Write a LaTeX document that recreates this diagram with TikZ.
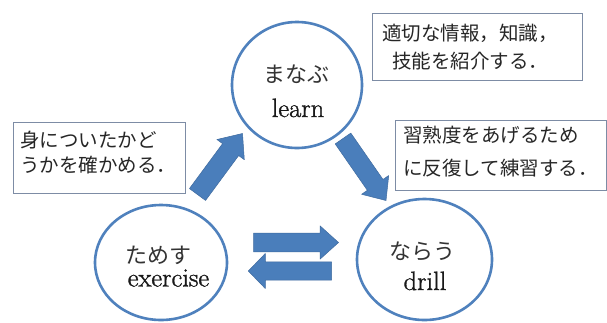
\documentclass[tikz,border=0pt]{standalone}
\usepackage{fontspec}
\newfontfamily\jp{Noto Sans CJK JP}
\newfontfamily\enfont[FakeBold=1.2]{Latin Modern Roman}
\usetikzlibrary{calc,shapes.geometric}
\definecolor{ringblue}{RGB}{79,129,189}
\definecolor{arrowblue}{RGB}{74,126,187}
\definecolor{boxline}{RGB}{125,140,165}
\newcommand\blockarrow[5]{%
  \coordinate (#1-hb) at ($(#2)!#5!(#1)$);
  \filldraw[blockarrowstyle] ($(#1)!#3!90:(#2)$) -- ($(#1-hb)!#3!-90:(#1)$) -- ($(#1-hb)!#4!-90:(#1)$) -- (#2) -- ($(#1-hb)!#4!90:(#1)$) -- ($(#1-hb)!#3!90:(#1)$) -- ($(#1)!#3!-90:(#2)$) -- cycle;}
\begin{document}
\begin{tikzpicture}[x=1pt,y=-1pt,
  ring/.style={ellipse, draw=ringblue, line width=2.6pt, fill=white, inner sep=0pt},
  infobox/.style={rectangle, draw=boxline, line width=0.9pt, fill=white, inner sep=0pt},
  boxtext/.style={font=\jp\fontsize{19.5}{#1}\selectfont, inner sep=0pt, text=black!85},
  ringjp/.style={font=\jp\fontsize{22}{26}\selectfont, inner sep=0pt, text=black!80},
  ringen/.style={font=\enfont\fontsize{26.5}{30}\selectfont, inner sep=0pt, anchor=base, text=black!90},
  blockarrowstyle/.style={fill=arrowblue, draw=arrowblue!85!black, line width=0.5pt, line join=round}]
\useasboundingbox (0,0) rectangle (607,322);
\fill[white] (0,0) rectangle (607,322);

% circles
\node[ring, minimum width=130pt, minimum height=126pt] (learn) at (297,85) {};
\node[ring, minimum width=132pt, minimum height=115pt] (exercise) at (161,262.5) {};
\node[ring, minimum width=135pt, minimum height=121pt] (drill) at (424.5,259.5) {};

\node[ringjp] (learnjp) at (296,74) {まなぶ};
\node[ringen] (learnen) at (298,117) {learn};
\node[ringjp] (exercisejp) at (158,255) {ためす};
\node[ringen] (exerciseen) at (168.5,286.5) {exercise};
\node[ringjp] (drilljp) at (422,251) {ならう};
\node[ringen] (drillen) at (425,290) {drill};

% boxes
\node[infobox, minimum width=210pt, minimum height=67pt] (infob) at (477,46.5) {};
\node[boxtext=28, align=center] (infot) at (470,47) {適切な情報，知識，\\技能を紹介する．};
\node[infobox, minimum width=211pt, minimum height=70pt] (drillb) at (500.5,155) {};
\node[boxtext=33, align=left, anchor=west] (drillt) at (403,151.5) {習熟度をあげるため\\に反復して練習する．};
\node[infobox, minimum width=172pt, minimum height=71pt] (checkb) at (99,157.5) {};
\node[boxtext=25, align=left, anchor=west] (checkt) at (20,152.5) {身についたかど\\うかを確かめる．};

% block arrows
\coordinate (upt) at (197.5,194.5);
\coordinate (uph) at (242.5,133.5);
\coordinate (dnt) at (343,138.5);
\coordinate (dnh) at (386,200.5);
\coordinate (rtt) at (253.5,242.5);
\coordinate (rth) at (338.5,242.5);
\coordinate (lft) at (331.5,271);
\coordinate (lfh) at (248.3,271);
\blockarrow{upt}{uph}{10pt}{17pt}{20pt}
\blockarrow{dnt}{dnh}{9.5pt}{16.5pt}{19pt}
\blockarrow{rtt}{rth}{9.3pt}{16.7pt}{18.5pt}
\blockarrow{lft}{lfh}{9.2pt}{17.5pt}{17pt}
\end{tikzpicture}
\end{document}
